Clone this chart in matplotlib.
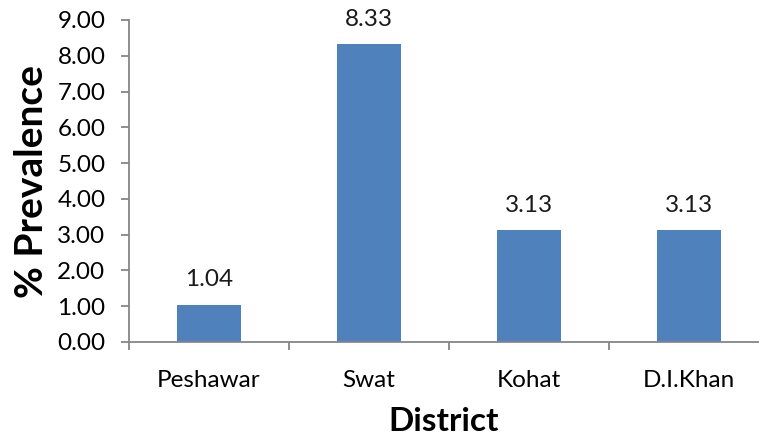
import matplotlib
matplotlib.use("Agg")
import matplotlib.pyplot as plt

districts = ["Peshawar", "Swat", "Kohat", "D.I.Khan"]
prevalence = [1.04, 8.33, 3.13, 3.13]
yticks = [0, 1, 2, 3, 4, 5, 6, 7, 8, 9]

plt.rcParams['font.family'] = ['Lato', 'DejaVu Sans']

W, H = 759, 441
fig = plt.figure(figsize=(W / 100, H / 100), dpi=100)
ax = fig.add_axes([129 / W, (H - 342) / H, (759 - 129) / W, (342 - 20) / H])

x = list(range(len(districts)))
ax.bar(x, prevalence, width=0.4, color="#4F81BD", zorder=2)
for xi, v in zip(x, prevalence):
    ax.text(xi, v + 0.4, f"{v:.2f}", ha="center", va="bottom", fontsize=17.5,
            color="#1a1a1a", clip_on=False)

ax.set_xlim(-0.5, 3.5 - 10 / 160)
ax.set_ylim(0, 9)
ax.set_yticks(yticks)
ax.set_yticklabels([f"{t:.2f}" for t in yticks], fontsize=17.5)
ax.set_xticks(x)
ax.set_xticklabels(districts, fontsize=17.5)
ax.set_xticks([-0.5, 0.5, 1.5, 2.5], minor=True)
ax.tick_params(axis='x', which='major', length=0, pad=20)
ax.tick_params(axis='x', which='minor', length=6, color="#868686", width=1.3)
ax.tick_params(axis='y', length=6, color="#868686", width=1.3, pad=11)

for s in ["top", "right"]:
    ax.spines[s].set_visible(False)
for s in ["left", "bottom"]:
    ax.spines[s].set_color("#868686")
    ax.spines[s].set_linewidth(1.3)

ax.set_ylabel("% Prevalence", fontsize=28, fontweight="bold", labelpad=6)
ax.set_xlabel("District", fontsize=24, fontweight="bold", labelpad=12)

fig.savefig("out.png", dpi=100)
